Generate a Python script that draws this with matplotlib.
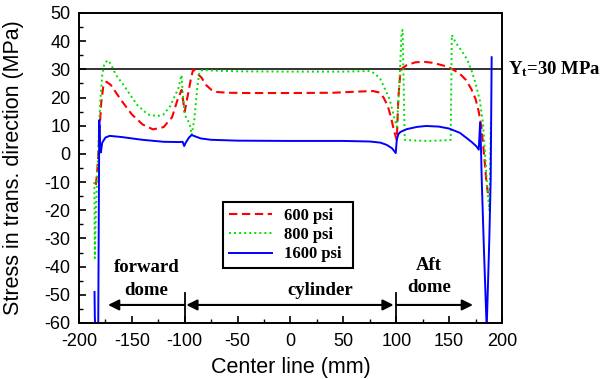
import matplotlib
matplotlib.use("Agg")
import matplotlib.pyplot as plt
from matplotlib.ticker import MultipleLocator

plt.rcParams['axes.unicode_minus'] = False
plt.rcParams['mathtext.fontset'] = 'custom'
plt.rcParams['mathtext.rm'] = 'Liberation Serif:bold'
plt.rcParams['mathtext.it'] = 'Liberation Serif:bold'
plt.rcParams['mathtext.bf'] = 'Liberation Serif:bold'

# 600 psi
x600 = [-184, -182.5, -181, -179, -177, -174, -170, -160, -150, -140, -130, -120, -112, -107, -103,
        -100, -97, -94, -92, -88, -84, -80, -75, -70, -60, -40, 0, 40, 70, 78, 84, 88, 92, 95, 98,
        100.5, 102, 104, 106, 110, 118, 126, 135, 145, 152, 160, 166, 171, 175, 178, 180.5, 183, 185, 187]
y600 = [-11, -5, 5, 18, 24, 25.6, 24.5, 19, 14, 10.5, 8.7, 9.5, 13, 19, 22.7,
        15, 21, 27, 30, 28.5, 27, 24.5, 22.8, 22, 21.7, 21.6, 21.6, 21.7, 22.2, 22.3, 21.8, 20, 17, 13, 8,
        5, 20, 29.5, 30.5, 31.5, 32.5, 32.7, 32.3, 31.3, 30.3, 28.5, 26.2, 23, 19.5, 15, 9.6, 0, -9, -15]

# 800 psi
x800 = [-185.5, -185.2, -185, -184, -182, -180, -178, -176, -173, -170, -165, -158, -145, -135, -126, -120,
        -114, -106, -103, -102, -100, -97, -95, -93.5, -91, -88, -86, -83, -75, -50, 0, 50, 75, 80, 85,
        90, 94, 98, 100.5, 103, 105, 106, 107, 108, 115, 130, 145, 151.5, 152.5, 154, 158, 162, 167,
        171, 175, 179, 182, 184, 186, 188, 189.5]
y800 = [-10, -25, -37, -20, 0, 18, 28, 32, 33.2, 32, 28, 24.5, 17.4, 14, 13.4, 14,
        16.8, 23.3, 28, 22, 13.8, 12, 10, 6.7, 12, 24, 29.2, 29.8, 29.6, 29.3, 29.2, 29.2, 29.4, 28.5, 26.5,
        22.5, 19, 13, 9.6, 25, 43, 44, 25, 5, 4.8, 4.6, 4.8, 5, 42.2, 41, 38.5, 36.5, 33.5,
        29.8, 25, 19, 11, 0, -12, -20, 12]

# 1600 psi
x1600 = [-185.3, -185, -184.5, -181.8, -180.8, -180, -179.3, -178, -175, -171, -160, -140, -120, -105, -102,
         -100.5, -99, -96, -93.5, -90, -85, -75, -50, 0, 50, 75, 85, 91, 96, 99.5, 100.5, 102, 104, 110,
         120, 128, 140, 150, 160, 167, 172, 176, 178, 179.3, 180.2, 180.8, 183, 185.5, 188, 189.3, 190.2]
y1600 = [-49, -58, -62, -62, 12, 2, 0.5, 4, 5.8, 6.4, 6, 5, 4.3, 4.2, 4.3,
         2.8, 4, 5.8, 6.7, 6.2, 5.5, 5, 4.7, 4.6, 4.6, 4.4, 4, 3.2, 2, 0.3, 5, 7, 7.8, 8.8,
         9.6, 9.9, 9.7, 9, 7.5, 5.5, 4, 2.6, 1.5, 11.1, 1, -9, -35, -62, -30, -9, 34.3]

series_labels = ['600 psi', '800 psi', '1600 psi']
yt = 30

fig = plt.figure(figsize=(6.01, 3.79), dpi=100)
ax = fig.add_axes([0.1314, 0.1478, 0.7039, 0.8179])

ax.plot(x600, y600, color='#ff0000', lw=1.5, ls=(0, (4, 2.2)), label=series_labels[0])
ax.plot(x800, y800, color='#00e000', lw=1.4, ls=(0, (1, 1.6)), label=series_labels[1])
ax.plot(x1600, y1600, color='#0000ff', lw=1.4, ls='-', label=series_labels[2])
ax.axhline(yt, color='#222222', lw=1.3, zorder=1)

ax.set_xlim(-200, 200)
ax.set_ylim(-60, 50)
ax.xaxis.set_major_locator(MultipleLocator(50))
ax.xaxis.set_minor_locator(MultipleLocator(25))
ax.yaxis.set_major_locator(MultipleLocator(10))
ax.yaxis.set_minor_locator(MultipleLocator(5))
ax.tick_params(which='major', direction='in', length=5, width=1.2, labelsize=13)
ax.tick_params(axis='x', which='major', pad=7.5)
ax.tick_params(axis='y', which='major', pad=6)
ax.tick_params(which='minor', direction='in', length=3, width=1)
for lab in ax.get_xticklabels() + ax.get_yticklabels():
    lab.set_fontfamily('Liberation Sans')
for s in ax.spines.values():
    s.set_linewidth(1.4)

ax.set_xlabel('Center line (mm)', fontsize=15.5, family='Liberation Sans')
ax.set_ylabel('Stress in trans. direction (MPa)', fontsize=15.5, family='Liberation Sans')
ax.xaxis.set_label_coords(0.5, -0.145)
ax.yaxis.set_label_coords(-0.1537, 0.5)
ax.xaxis.label.set_va('center')
ax.yaxis.label.set_va('center')

# Y_t label
ax.text(1.015, yt, r'Y$_{\mathrm{t}}$=30 MPa', transform=ax.get_yaxis_transform(),
        ha='left', va='center', fontsize=13.5, family='Liberation Serif', weight='bold')

# legend
leg = ax.legend(loc='lower left', bbox_to_anchor=(0.3705, 0.2921, 0.2164, 0.18),
                bbox_transform=fig.transFigure, mode='expand', fancybox=False,
                framealpha=1, edgecolor='black', handlelength=2.6, handletextpad=0.7,
                labelspacing=0.2, borderpad=0.35, borderaxespad=0,
                prop={'family': 'Liberation Serif', 'weight': 'bold', 'size': 12})
leg.get_frame().set_linewidth(1.5)

# region annotations
ay = -53.6
arrow_kw = dict(color='black', lw=1.5, shrinkA=0, shrinkB=0, mutation_scale=16)
ax.annotate('', xy=(-172.5, ay), xytext=(-100, ay), arrowprops=dict(arrowstyle='-|>', **arrow_kw))
ax.annotate('', xy=(-98.5, ay), xytext=(97.5, ay), arrowprops=dict(arrowstyle='<|-|>', **arrow_kw))
ax.annotate('', xy=(172.5, ay), xytext=(100, ay), arrowprops=dict(arrowstyle='-|>', **arrow_kw))
ax.plot([-100, -100], [-49.5, -60], color='black', lw=1.3)
ax.plot([100, 100], [-49.5, -60], color='black', lw=1.3)

tkw = dict(fontsize=13.5, family='Liberation Serif', weight='bold', ha='center', va='center')
ax.text(-136, -40.3, 'forward', **tkw)
ax.text(-136, -48.3, 'dome', **tkw)
ax.text(28, -48.3, 'cylinder', **tkw)
ax.text(131, -39.6, 'Aft', **tkw)
ax.text(131, -47.3, 'dome', **tkw)

fig.savefig('out.png', dpi=100)
